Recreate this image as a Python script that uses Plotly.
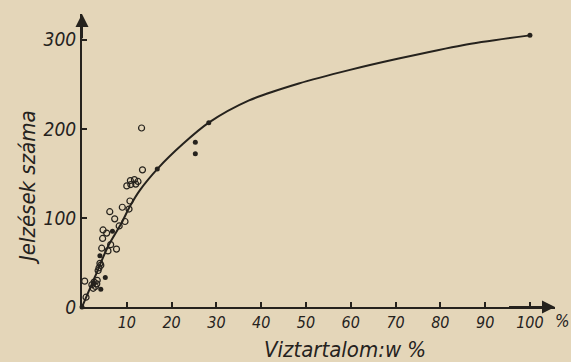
import plotly.graph_objects as go

# Curve
curve_x = [0, 2.9, 5.8, 8.8, 10.7, 12.9, 17, 22.5, 28.3, 37.3, 48.4, 59.6, 70.7, 85, 100]
curve_y = [0, 34, 68, 94, 113, 131, 156, 183, 207, 232, 251, 266, 279, 294, 305]

# Open-circle measurements
open_x = [0.6, 0.9, 2.2, 2.7, 3.0, 3.4, 2.5, 3.3, 3.8, 4.2, 3.6, 4.0, 4.4, 5.8, 7.7, 6.4,
          4.6, 5.5, 4.7, 8.3, 9.6, 7.3, 6.2, 9.0, 10.5, 10.7, 10.0, 10.9, 10.8, 11.7, 12.0,
          12.5, 13.5, 13.3]
open_y = [29, 11, 25, 28, 23, 30, 21, 26, 44, 47, 41, 49, 66, 63, 65, 70,
          77, 83, 86.5, 91, 96, 99, 107, 112, 110, 119, 136, 137.5, 142, 143, 138,
          141, 154, 201]

# Filled-dot measurements
filled_x = [0, 2.6, 4.0, 4.2, 5.2, 6.8, 16.8, 25.3, 25.3, 28.3, 100]
filled_y = [0, 26, 57.6, 20, 33, 85, 155, 185, 172, 207, 305]

x_ticks = [10, 20, 30, 40, 50, 60, 70, 80, 90, 100]
x_ticktext = ["10", "20", "30", "40", "50", "60", "70", "80", "90", "100"]
y_ticks = [0, 100, 200, 300]
y_ticktext = ["0", "100", "200", "300"]

INK = "#25221d"
PAPER = "#e4d6b9"
FONT = "DejaVu Sans Condensed, Liberation Sans Narrow, DejaVu Sans, sans-serif"

W, H = 571, 362
ML, MR, MT, MB = 82, 16, 14, 55
PW = W - ML - MR
PH = H - MT - MB


def px2paper(px, py):
    return (px - ML) / PW, (H - MB - py) / PH


fig = go.Figure()
fig.add_trace(go.Scatter(x=curve_x, y=curve_y, mode="lines",
                         line=dict(color=INK, width=2, shape="spline", smoothing=0.8),
                         hoverinfo="skip", cliponaxis=False))
fig.add_trace(go.Scatter(x=open_x, y=open_y, mode="markers",
                         marker=dict(symbol="circle-open", size=6, color=INK,
                                     line=dict(width=1.2, color=INK)),
                         cliponaxis=False))
fig.add_trace(go.Scatter(x=filled_x, y=filled_y, mode="markers",
                         marker=dict(symbol="circle", size=5, color=INK),
                         cliponaxis=False))

fig.update_layout(
    width=W, height=H,
    margin=dict(l=ML, r=MR, t=MT, b=MB),
    paper_bgcolor=PAPER, plot_bgcolor=PAPER,
    showlegend=False,
    font=dict(family=FONT, color=INK, style="italic"),
    xaxis=dict(range=[0, 105.6], showgrid=False, zeroline=False,
               showline=True, linewidth=2, linecolor=INK,
               ticks="inside", ticklen=5, tickwidth=1.5, tickcolor=INK,
               tickvals=x_ticks, ticktext=x_ticktext,
               tickfont=dict(size=16, family=FONT, color=INK, style="italic")),
    yaxis=dict(range=[0, 329], showgrid=False, zeroline=False,
               showline=True, linewidth=2, linecolor=INK,
               ticks="inside", ticklen=5, tickwidth=1.5, tickcolor=INK,
               tickvals=y_ticks, ticktext=y_ticktext,
               tickfont=dict(size=19, family=FONT, color=INK, style="italic")),
)

# Arrowheads on axes
fig.add_annotation(x=105.6, y=0, ax=95, ay=0, xref="x", yref="y", axref="x", ayref="y",
                   showarrow=True, arrowhead=2, arrowsize=1.3, arrowwidth=2,
                   arrowcolor=INK, text="")
fig.add_annotation(x=0, y=329, ax=0, ay=300, xref="x", yref="y", axref="x", ayref="y",
                   showarrow=True, arrowhead=2, arrowsize=1.3, arrowwidth=2,
                   arrowcolor=INK, text="")

# Percent sign after 100
px_, py_ = px2paper(562, 321)
fig.add_annotation(x=px_, y=py_, xref="paper", yref="paper", text="%", showarrow=False,
                   xanchor="center", yanchor="middle",
                   font=dict(size=17, family=FONT, color=INK, style="italic"))

# Axis titles
px_, py_ = px2paper(345, 349)
fig.add_annotation(text="Viztartalom:w %", x=px_, y=py_, xref="paper", yref="paper",
                   showarrow=False, xanchor="center", yanchor="middle",
                   font=dict(size=22, family=FONT, color=INK, style="italic"))
px_, py_ = px2paper(27, 188)
fig.add_annotation(text="Jelzések száma", x=px_, y=py_, xref="paper", yref="paper",
                   textangle=-90, showarrow=False, xanchor="center", yanchor="middle",
                   font=dict(size=22, family=FONT, color=INK, style="italic"))

fig.write_html("out.html",
               config={"displayModeBar": False},
               post_script="document.body.style.margin='0';document.body.style.background='%s';" % PAPER)
